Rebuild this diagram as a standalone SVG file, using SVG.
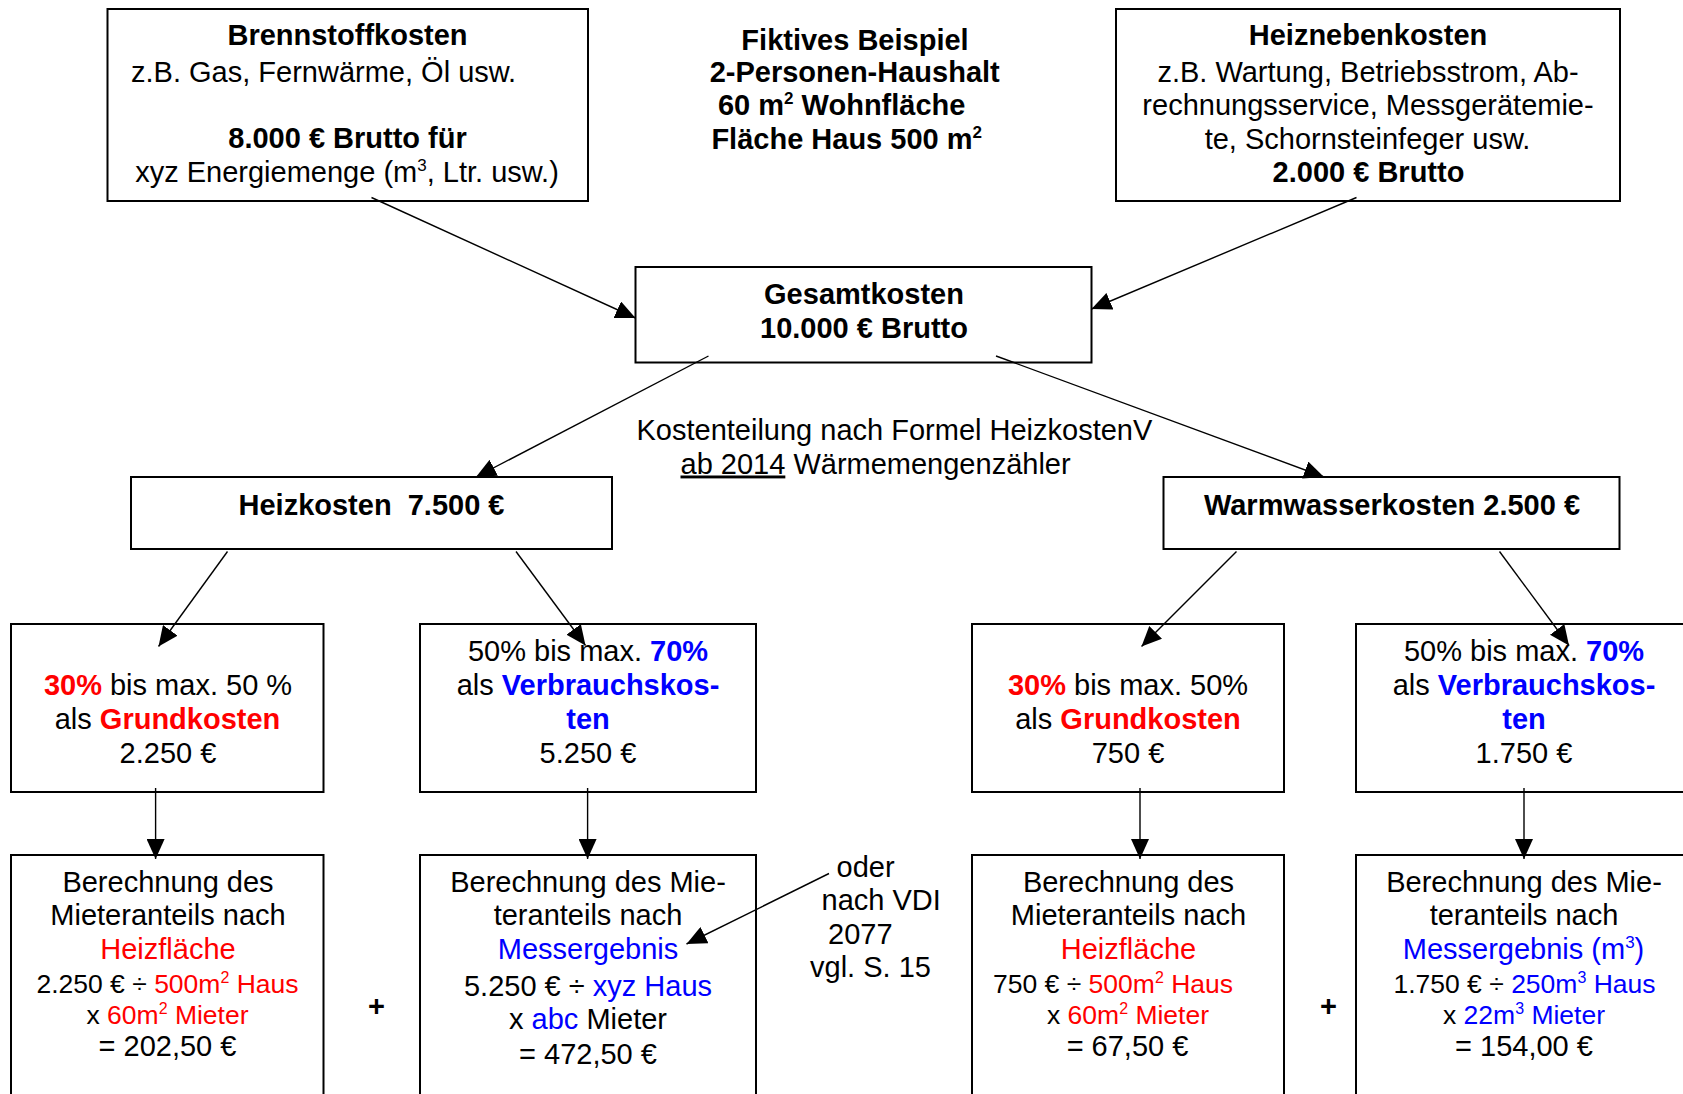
<svg xmlns="http://www.w3.org/2000/svg" width="1683" height="1094" viewBox="0 0 1683 1094">
<style>
text{font-family:"Liberation Sans",Arial,sans-serif;font-size:29px;fill:#000;white-space:pre}
.b{font-weight:bold}
.m{text-anchor:middle}
.s{font-size:26.5px}
.r{fill:#ff0000}
.u{fill:#0000ff}
rect{fill:#fff;stroke:#000;stroke-width:2}
.c line{stroke:#000;stroke-width:1.4}
</style>
<defs>
<marker id="ah" viewBox="0 0 20 18" refX="20" refY="9" markerWidth="20" markerHeight="18" markerUnits="userSpaceOnUse" orient="auto">
<path d="M0,0 L20,9 L0,18 z" fill="#000"/>
</marker>
</defs>
<rect x="0" y="0" width="1683" height="1094" style="stroke:none"/>

<g id="brennstoffkosten">
<rect x="107.5" y="9" width="480.5" height="192"/>
<text class="b m" x="347.5" y="45">Brennstoffkosten</text>
<text class="m" x="323.6" y="81.5">z.B. Gas, Fernwärme, Öl usw.</text>
<text class="b m" x="347.5" y="148">8.000 € Brutto für</text>
<text class="m" x="347" y="181.5">xyz Energiemenge (m<tspan font-size="17" dy="-11">3</tspan><tspan dy="11">, Ltr. usw.)</tspan></text>
</g>

<g id="beispiel">
<text class="b m" x="855" y="49.5">Fiktives Beispiel</text>
<text class="b m" x="854.7" y="82">2-Personen-Haushalt</text>
<text class="b m" x="841.7" y="115">60 m<tspan font-size="17" dy="-11">2</tspan><tspan dy="11"> Wohnfläche</tspan></text>
<text class="b m" x="846.7" y="148.5">Fläche Haus 500 m<tspan font-size="17" dy="-11">2</tspan></text>
</g>

<g id="heiznebenkosten">
<rect x="1116" y="9" width="504" height="192"/>
<text class="b m" x="1368" y="45">Heiznebenkosten</text>
<text class="m" x="1368" y="81.5">z.B. Wartung, Betriebsstrom, Ab-</text>
<text class="m" x="1368" y="115">rechnungsservice, Messgerätemie-</text>
<text class="m" x="1367.5" y="148.5">te, Schornsteinfeger usw.</text>
<text class="b m" x="1368.5" y="181.5">2.000 € Brutto</text>
</g>

<g id="gesamtkosten">
<rect x="635.5" y="267" width="456" height="95.5"/>
<text class="b m" x="864" y="303.5">Gesamtkosten</text>
<text class="b m" x="864" y="338">10.000 € Brutto</text>
</g>

<g id="kostenteilung">
<text x="636.5" y="440">Kostenteilung nach Formel HeizkostenV</text>
<text x="680.5" y="473.5"><tspan text-decoration="underline">ab 2014</tspan> Wärmemengenzähler</text>
</g>

<g id="heizkosten">
<rect x="131" y="477" width="481" height="72"/>
<text class="b m" x="371.5" y="515">Heizkosten  7.500 €</text>
</g>

<g id="warmwasserkosten">
<rect x="1163.5" y="477" width="456" height="72"/>
<text class="b m" x="1392" y="515">Warmwasserkosten 2.500 €</text>
</g>

<g id="grundkosten-heiz">
<rect x="11" y="624" width="312.5" height="168"/>
<text class="m" x="168" y="695"><tspan class="b r">30%</tspan> bis max. 50 %</text>
<text class="m" x="167.5" y="728.5">als <tspan class="b r">Grundkosten</tspan></text>
<text class="m" x="168" y="762.5">2.250 €</text>
</g>

<g id="verbrauch-heiz">
<rect x="420" y="624" width="336" height="168"/>
<text class="m" x="588" y="661">50% bis max. <tspan class="b u">70%</tspan></text>
<text class="m" x="588" y="695">als <tspan class="b u">Verbrauchskos-</tspan></text>
<text class="m b u" x="588" y="728.5">ten</text>
<text class="m" x="588" y="762.5">5.250 €</text>
</g>

<g id="grundkosten-ww">
<rect x="972" y="624" width="312" height="168"/>
<text class="m" x="1128" y="695"><tspan class="b r">30%</tspan> bis max. 50%</text>
<text class="m" x="1128" y="728.5">als <tspan class="b r">Grundkosten</tspan></text>
<text class="m" x="1128" y="762.5">750 €</text>
</g>

<g id="verbrauch-ww">
<rect x="1356" y="624" width="336" height="168"/>
<text class="m" x="1524" y="661">50% bis max. <tspan class="b u">70%</tspan></text>
<text class="m" x="1524" y="695">als <tspan class="b u">Verbrauchskos-</tspan></text>
<text class="m b u" x="1524" y="728.5">ten</text>
<text class="m" x="1524" y="762.5">1.750 €</text>
</g>

<g id="berechnung-heizflaeche">
<rect x="11" y="855" width="312.5" height="260"/>
<text class="m" x="168" y="892">Berechnung des</text>
<text class="m" x="168" y="925">Mieteranteils nach</text>
<text class="m r" x="168" y="958.5">Heizfläche</text>
<text class="m s" x="167.5" y="993">2.250 € ÷ <tspan class="r">500m</tspan><tspan class="r" font-size="16" dy="-10">2</tspan><tspan class="r" dy="10"> Haus</tspan></text>
<text class="m s" x="167.5" y="1023.5">x <tspan class="r">60m</tspan><tspan class="r" font-size="16" dy="-10">2</tspan><tspan class="r" dy="10"> Mieter</tspan></text>
<text class="m" x="167.5" y="1056">= 202,50 €</text>
</g>

<g id="berechnung-messergebnis">
<rect x="420" y="855" width="336" height="260"/>
<text class="m" x="588" y="892">Berechnung des Mie-</text>
<text class="m" x="588" y="925">teranteils nach</text>
<text class="m u" x="588" y="958.5">Messergebnis</text>
<text class="m" x="588" y="995.5">5.250 € ÷ <tspan class="u">xyz Haus</tspan></text>
<text class="m" x="588" y="1029">x <tspan class="u">abc</tspan> Mieter</text>
<text class="m" x="588" y="1063.5">= 472,50 €</text>
</g>

<g id="berechnung-heizflaeche-ww">
<rect x="972" y="855" width="312" height="260"/>
<text class="m" x="1128.5" y="892">Berechnung des</text>
<text class="m" x="1128.5" y="925">Mieteranteils nach</text>
<text class="m r" x="1128.5" y="958.5">Heizfläche</text>
<text class="m s" x="1113" y="993">750 € ÷ <tspan class="r">500m</tspan><tspan class="r" font-size="16" dy="-10">2</tspan><tspan class="r" dy="10"> Haus</tspan></text>
<text class="m s" x="1128" y="1023.5">x <tspan class="r">60m</tspan><tspan class="r" font-size="16" dy="-10">2</tspan><tspan class="r" dy="10"> Mieter</tspan></text>
<text class="m" x="1127.5" y="1056">= 67,50 €</text>
</g>

<g id="berechnung-messergebnis-ww">
<rect x="1356" y="855" width="336" height="260"/>
<text class="m" x="1524" y="892">Berechnung des Mie-</text>
<text class="m" x="1524" y="925">teranteils nach</text>
<text class="m u" x="1523.5" y="958.5">Messergebnis (m<tspan font-size="17" dy="-11">3</tspan><tspan dy="11">)</tspan></text>
<text class="m s" x="1524.5" y="993">1.750 € ÷ <tspan class="u">250m</tspan><tspan class="u" font-size="16" dy="-10">3</tspan><tspan class="u" dy="10"> Haus</tspan></text>
<text class="m s" x="1524" y="1023.5">x <tspan class="u">22m</tspan><tspan class="u" font-size="16" dy="-10">3</tspan><tspan class="u" dy="10"> Mieter</tspan></text>
<text class="m" x="1524" y="1056">= 154,00 €</text>
</g>

<g id="vdi-hinweis">
<text x="836.5" y="877">oder</text>
<text x="821.5" y="910">nach VDI</text>
<text x="828" y="943.5">2077</text>
<text x="810" y="977">vgl. S. 15</text>
</g>

<g id="plus-zeichen">
<text class="b m" x="376.5" y="1016">+</text>
<text class="b m" x="1328.5" y="1016">+</text>
</g>

<g id="connectors" class="c">
<line x1="371.5" y1="197.5" x2="635.5" y2="318" marker-end="url(#ah)"/>
<line x1="1356.5" y1="197.5" x2="1091.5" y2="309" marker-end="url(#ah)"/>
<line x1="708.5" y1="356" x2="476" y2="477" marker-end="url(#ah)"/>
<line x1="996" y1="356" x2="1324" y2="477" marker-end="url(#ah)"/>
<line x1="227.5" y1="551.5" x2="158.5" y2="646.5" marker-end="url(#ah)"/>
<line x1="516" y1="551.5" x2="585.5" y2="645.5" marker-end="url(#ah)"/>
<line x1="1236.5" y1="551.5" x2="1141.5" y2="646.5" marker-end="url(#ah)"/>
<line x1="1499.5" y1="551.5" x2="1569" y2="645.5" marker-end="url(#ah)"/>
<line x1="155.6" y1="788" x2="155.6" y2="859" marker-end="url(#ah)"/>
<line x1="587.6" y1="788" x2="587.6" y2="859" marker-end="url(#ah)"/>
<line x1="1140" y1="788" x2="1140" y2="859" marker-end="url(#ah)"/>
<line x1="1524" y1="788" x2="1524" y2="859" marker-end="url(#ah)"/>
<line x1="829" y1="873.5" x2="686.5" y2="944" marker-end="url(#ah)"/>
</g>
</svg>
